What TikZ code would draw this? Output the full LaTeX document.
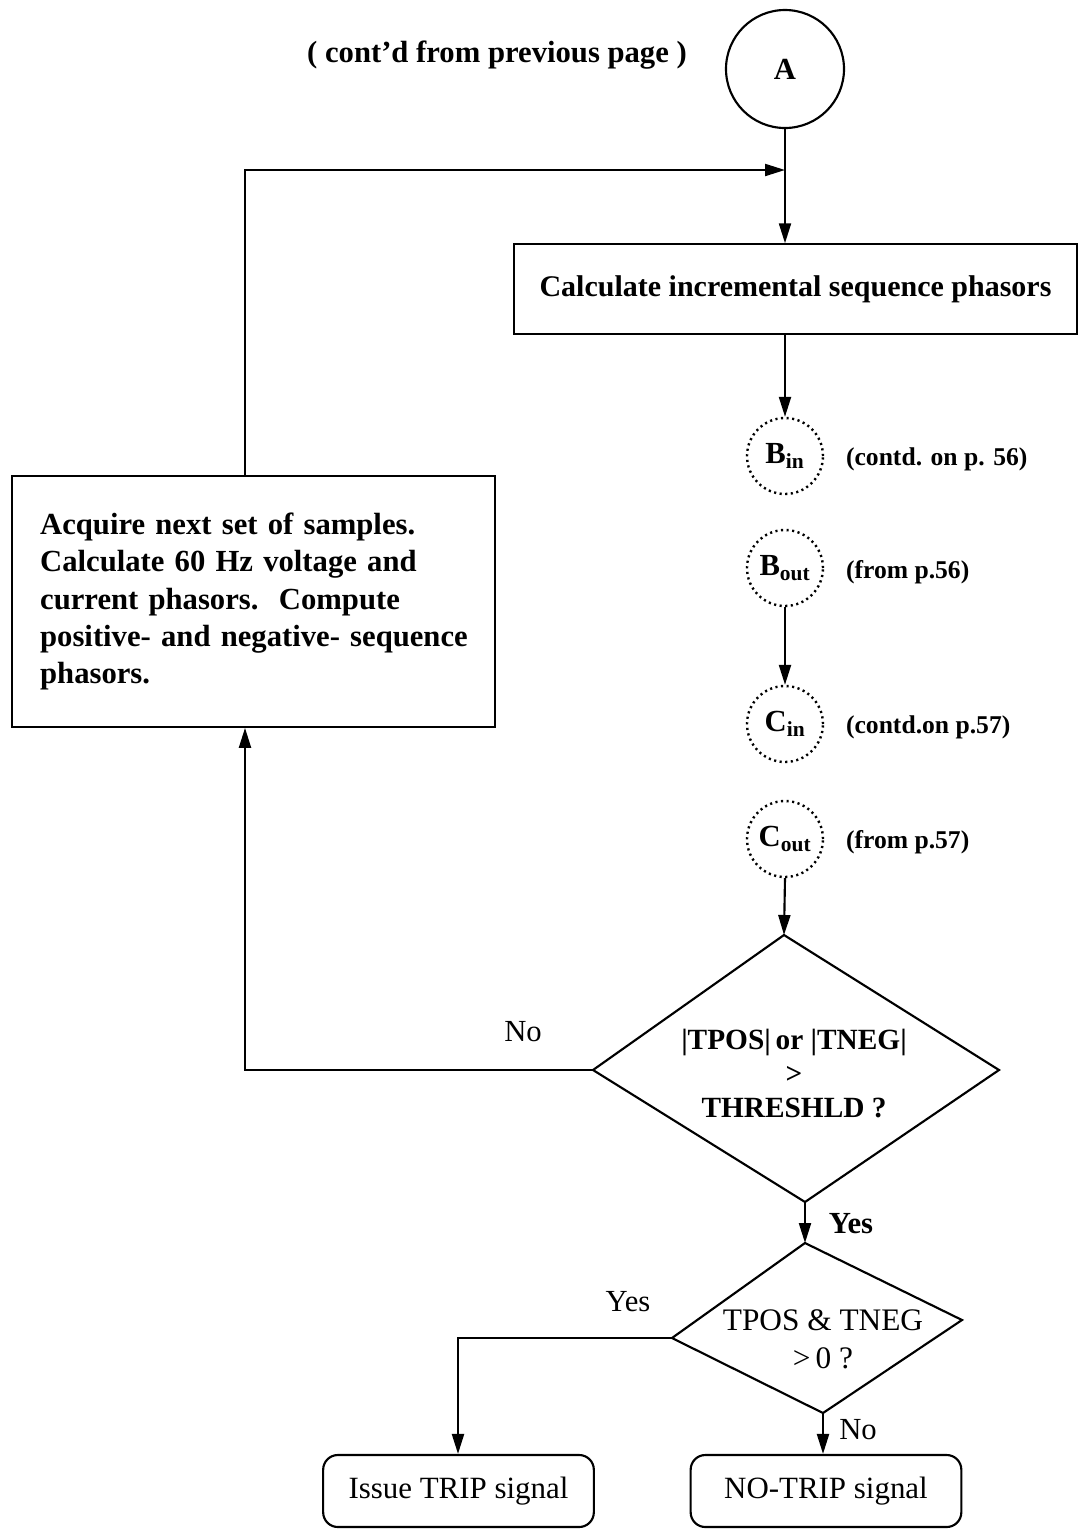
\documentclass[tikz,border=0pt]{standalone}
\usepackage{fontspec}
\setmainfont{Liberation Serif}
\usetikzlibrary{arrows.meta}
\begin{document}
\begin{tikzpicture}[x=0.75pt,y=-0.75pt,line width=1.6pt,
  arr/.style={-{Triangle[length=15pt,width=9pt]}},
  procbox/.style={draw,rectangle,inner sep=0pt},
  conncirc/.style={draw,circle,inner sep=0pt,minimum size=57pt,line width=1.8pt,
    dash pattern=on 1.6pt off 2.6pt,font=\fontsize{23}{26}\selectfont\bfseries},
  side/.style={anchor=west,inner sep=0pt,font=\fontsize{19.2}{23}\selectfont\bfseries},
  endbox/.style={draw,rectangle,rounded corners=11pt,inner sep=0pt,
    minimum width=203pt,minimum height=54pt,font=\fontsize{23.2}{26}\selectfont},
  lab/.style={inner sep=0pt,font=\fontsize{23}{26}\selectfont},
]
\useasboundingbox (0,0) rectangle (1080,1529);

% top connector and caption
\node[draw,circle,minimum size=88.5pt,inner sep=0pt,
  font=\fontsize{23}{24}\selectfont\bfseries] (A) at (785,69) {A};
\node[inner sep=0pt,font=\fontsize{23}{26}\selectfont\bfseries] (cont) at (497,55)
  {( cont'd from previous page )};

% process boxes
\node[procbox,minimum width=422pt,minimum height=67pt,
  font=\fontsize{22.5}{26}\selectfont\bfseries] (calc) at (795.5,289)
  {Calculate incremental sequence phasors};
\node[procbox,minimum width=362pt,minimum height=188pt,text width=320pt,align=left,
  font=\fontsize{23}{28}\selectfont\bfseries] (acq) at (253.5,601.5)
  {Acquire next set of samples.\\ Calculate 60 Hz voltage and\\ current phasors.\ \ Compute\\ \mbox{positive- and negative- sequence}\\ phasors.\\[-9pt]};

% off-page connectors
\node[conncirc] (Bin)  at (785,456) {B\textsubscript{in}};
\node[conncirc] (Bout) at (785,568) {B\textsubscript{out}};
\node[conncirc] (Cin)  at (785,724) {C\textsubscript{in}};
\node[conncirc] (Cout) at (785,839) {C\textsubscript{out}};
\node[side] (BinL)  at (845,459) {(contd. on p. 56)};
\node[side] (BoutL) at (845,572) {(from p.56)};
\node[side] (CinL)  at (845,727) {(contd.on p.57)};
\node[side] (CoutL) at (845,842) {(from p.57)};

% decision 1
\coordinate (d1t) at (784,935);
\coordinate (d1l) at (593,1070);
\coordinate (d1r) at (999,1070);
\coordinate (d1b) at (805,1202);
\draw (d1t) -- (d1r) -- (d1b) -- (d1l) -- cycle;
\node[inner sep=0pt,align=center,font=\fontsize{22}{25.5}\selectfont\bfseries] (d1) at (794,1074)
  {|TPOS|\,or |TNEG|\\>\\THRESHLD ?};

% decision 2
\coordinate (d2t) at (805,1243);
\coordinate (d2l) at (672,1338);
\coordinate (d2r) at (962,1320);
\coordinate (d2b) at (823,1413);
\draw (d2t) -- (d2r) -- (d2b) -- (d2l) -- cycle;
\node[inner sep=0pt,align=center,font=\fontsize{23.5}{28.5}\selectfont] (d2) at (823,1339)
  {TPOS \& TNEG\\ >\,0 ?};

% terminal boxes
\node[endbox] (trip)   at (458.5,1491) {\raisebox{-4pt}{Issue TRIP signal}};
\node[endbox] (notrip) at (826,1491)   {\raisebox{-4pt}{NO-TRIP signal}};

% branch labels
\node[lab] (no1)  at (523,1032) {No};
\node[lab,font=\fontsize{23}{26}\selectfont\bfseries] (yes1) at (851,1224) {Yes};
\node[lab] (yes2) at (628,1302) {Yes};
\node[lab] (no2)  at (858,1430) {No};

% connectors
\coordinate (jA) at (785,170);
\coordinate (jL) at (245,170);
\coordinate (jN) at (245,1070);
\coordinate (jY) at (458,1338);
\draw[arr] (A.south) -- (A |- calc.north);
\draw[arr] (A |- calc.south) -- (Bin.north);
\draw[arr] (Bout.south) -- (Cin.north);
\draw[arr] (Cout.south) -- (d1t);
\draw[arr] (d1l) -- (jN) -- (jN |- acq.south);
\draw[arr] (jN |- acq.north) -- (jL) -- (jA);
\draw[arr] (d1b) -- (d2t);
\draw[arr] (d2l) -- (jY) -- (jY |- trip.north);
\draw[arr] (d2b) -- (d2b |- notrip.north);
\end{tikzpicture}
\end{document}
